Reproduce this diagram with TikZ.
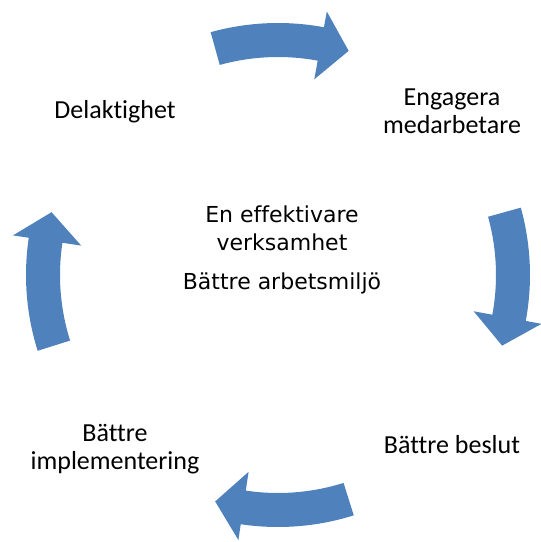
\documentclass[tikz,border=0pt]{standalone}
\usepackage{fontspec}
\setmainfont{Carlito}[Ligatures=NoCommon]
\newfontfamily\centerfont{DejaVu Sans}[Ligatures=NoCommon]
\definecolor{cycleblue}{RGB}{79,129,189}
\tikzset{
  cyclearrow/.style={fill=cycleblue},
  steplabel/.style={font=\fontsize{26}{28}\selectfont, align=center, anchor=base, inner sep=0pt},
  goallabel/.style={font=\centerfont\fontsize{22}{28}\selectfont, align=center, anchor=base, inner sep=0pt}
}
\begin{document}
\begin{tikzpicture}[x=1pt,y=1pt]
        \useasboundingbox (-278,-267) rectangle (263,275);
        % four curved arrows round the cycle
        \fill[cyclearrow] (105.5:218) arc[start angle=105.5, end angle=79.5, radius=218] -- (79.5:199) -- (72.5:235) -- (79.5:268) -- (79.5:252) arc[start angle=79.5, end angle=105.5, radius=252] -- cycle;
        \fill[cyclearrow] (15.5:218) arc[start angle=15.5, end angle=-10.5, radius=218] -- (-10.5:199) -- (-17.5:235) -- (-10.5:268) -- (-10.5:252) arc[start angle=-10.5, end angle=15.5, radius=252] -- cycle;
        \fill[cyclearrow] (-72.5:218) arc[start angle=-72.5, end angle=-98.5, radius=218] -- (-98.5:199) -- (-105.5:235) -- (-98.5:268) -- (-98.5:252) arc[start angle=-98.5, end angle=-72.5, radius=252] -- cycle;
        \fill[cyclearrow] (197.5:218) arc[start angle=197.5, end angle=171.5, radius=218] -- (171.5:199) -- (164.5:235) -- (171.5:268) -- (171.5:252) arc[start angle=171.5, end angle=197.5, radius=252] -- cycle;
        % steps (base is the last line)
        \node[steplabel] (delaktighet) at (-163,157) {Delaktighet};
        \node[steplabel] (engagera) at (174,142) {Engagera\\medarbetare};
        \node[steplabel] (beslut) at (174,-178) {Bättre beslut};
        \node[steplabel] (implementering) at (-163,-194) {Bättre\\implementering};
        % goals in the middle
        \node[goallabel] (effektiv) at (4,25) {En effektivare\\verksamhet};
        \node[goallabel] (miljo) at (4,-14) {Bättre arbetsmiljö};
      \end{tikzpicture}
\end{document}
